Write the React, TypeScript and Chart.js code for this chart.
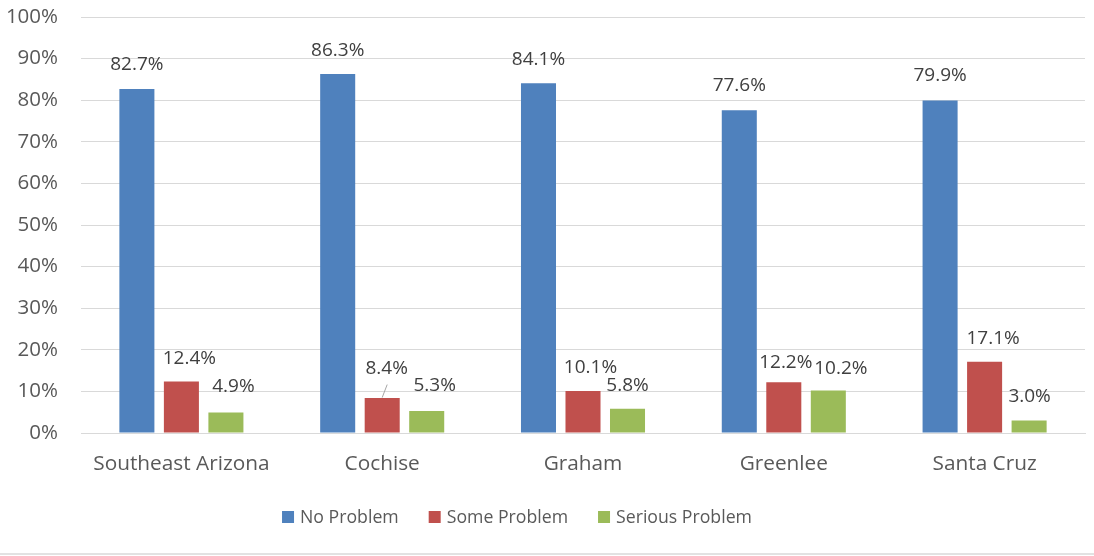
import React, { useEffect, useRef } from "react";
import { Chart, registerables } from "chart.js";

Chart.register(...registerables);

const categories = ["Southeast Arizona", "Cochise", "Graham", "Greenlee", "Santa Cruz"];
const noProblem = [82.7, 86.3, 84.1, 77.6, 79.9];
const someProblem = [12.4, 8.4, 10.1, 12.2, 17.1];
const seriousProblem = [4.9, 5.3, 5.8, 10.2, 3.0];
const seriesNames = ["No Problem", "Some Problem", "Serious Problem"];
const seriesColors = ["#4F81BD", "#C0504D", "#9BBB59"];

// label nudges relative to the bar top (style only)
const labelDx = [
  [0, 0, 0, 0, 0],
  [8, 4.5, 7.5, 2, 8.5],
  [7.5, 8, 0, 12.5, 0.5],
];
const labelDy = [
  [-24, -23.5, -24, -25, -25],
  [-23, -29.5, -23.5, -20, -23.5],
  [-26, -25, -23, -21.5, -23.5],
];
const leaderLines = [{ ds: 1, idx: 1 }];

const FONT = "'Open Sans', sans-serif";
const FS_LABEL = 19;
const FS_YTICK = 20.5;
const FS_XTICK = 20.8;
const FS_LEGEND = 17.7;

const labelsPlugin = {
  id: "barLabels",
  afterDatasetsDraw(chart: any) {
    const ctx = chart.ctx;
    ctx.save();
    ctx.font = `${FS_LABEL}px ${FONT}`;
    ctx.fillStyle = "#404040";
    ctx.textAlign = "center";
    ctx.textBaseline = "middle";
    chart.data.datasets.forEach((ds: any, di: number) => {
      const meta = chart.getDatasetMeta(di);
      meta.data.forEach((el: any, i: number) => {
        const v = ds.data[i];
        const x = el.x + labelDx[di][i];
        const y = el.y + labelDy[di][i];
        ctx.fillText(v.toFixed(1) + "%", x, y);
      });
    });
    ctx.strokeStyle = "#A6A6A6";
    ctx.lineWidth = 1;
    leaderLines.forEach(({ ds, idx }) => {
      const el = chart.getDatasetMeta(ds).data[idx] as any;
      ctx.beginPath();
      ctx.moveTo(el.x, el.y - 0.5);
      ctx.lineTo(el.x + 5, el.y - 13.5);
      ctx.stroke();
    });
    ctx.restore();
  },
};

const legendPlugin = {
  id: "customLegend",
  afterDraw(chart: any) {
    const ctx = chart.ctx;
    ctx.save();
    ctx.font = `${FS_LEGEND}px ${FONT}`;
    ctx.textBaseline = "middle";
    ctx.textAlign = "left";
    const box = 12;
    const gapBoxText = 6;
    const gapItems = 30;
    const widths = seriesNames.map((n) => ctx.measureText(n).width);
    const total =
      widths.reduce((a, b) => a + b, 0) + seriesNames.length * (box + gapBoxText) + gapItems * (seriesNames.length - 1);
    let x = 517 - total / 2;
    const y = 517;
    seriesNames.forEach((n, i) => {
      ctx.fillStyle = seriesColors[i];
      ctx.fillRect(x, y - box / 2, box, box);
      x += box + gapBoxText;
      ctx.fillStyle = "#595959";
      ctx.fillText(n, x, y + 1);
      x += widths[i] + gapItems;
    });
    // chart border bottom line
    ctx.strokeStyle = "#D9D9D9";
    ctx.lineWidth = 1.5;
    ctx.beginPath();
    ctx.moveTo(0, 554);
    ctx.lineTo(chart.width, 554);
    ctx.stroke();
    ctx.restore();
  },
};

export default function App() {
  const ref = useRef<HTMLCanvasElement>(null);
  useEffect(() => {
    document.body.style.margin = "0";
    const chart = new Chart(ref.current!, {
      type: "bar",
      data: {
        labels: categories,
        datasets: [noProblem, someProblem, seriousProblem].map((d, i) => ({
          label: seriesNames[i],
          data: d,
          backgroundColor: seriesColors[i],
          categoryPercentage: 0.665,
          barPercentage: 0.787,
        })),
      },
      options: {
        animation: false,
        responsive: false,
        devicePixelRatio: 1,
        layout: { padding: { top: 17, right: 9, left: 0, bottom: 0 } },
        plugins: { legend: { display: false }, tooltip: { enabled: false } },
        scales: {
          x: {
            grid: { display: false, drawTicks: false },
            border: { display: true, color: "#D9D9D9" },
            ticks: { color: "#595959", font: { family: FONT, size: FS_XTICK }, padding: 19 },
            afterFit: (s: any) => {
              s.height = 123;
            },
          },
          y: {
            min: 0,
            max: 100,
            ticks: {
              stepSize: 10,
              color: "#595959",
              font: { family: FONT, size: FS_YTICK },
              padding: 23,
              callback: (v: any) => v + "%",
            },
            grid: { color: "#D9D9D9", drawTicks: false },
            border: { display: false },
            afterFit: (s: any) => {
              s.width = 81;
              s.paddingTop = 0;
              s.paddingBottom = 0;
            },
          },
        },
      },
      plugins: [labelsPlugin, legendPlugin],
    });
    return () => chart.destroy();
  }, []);
  return (
    <div style={{ width: 1094, height: 556, background: "#fff" }}>
      <canvas ref={ref} width={1094} height={556} />
    </div>
  );
}
